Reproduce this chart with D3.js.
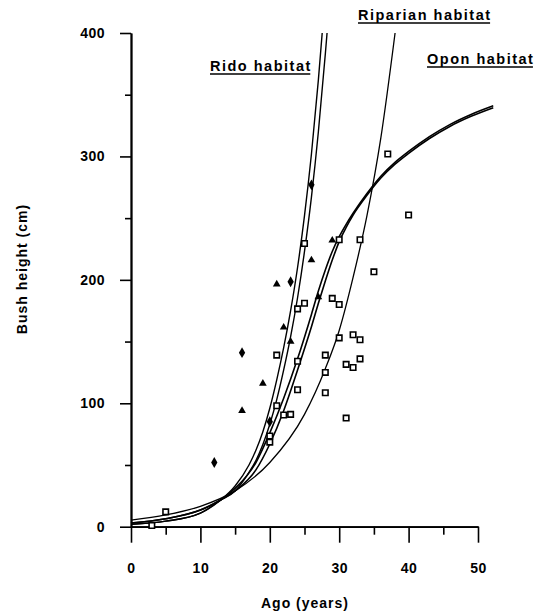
<!DOCTYPE html>
<html>
<head>
<meta charset="utf-8">
<script src="https://cdn.jsdelivr.net/npm/d3@7"></script>
<style>
  body { margin: 0; background: #fff; }
  svg { display: block; }
  text { font-family: "Liberation Sans", Arial, sans-serif; font-weight: bold; fill: #000; }
</style>
</head>
<body>
<div id="chart"></div>
<script>
// tick values
const ageTicks = [0, 10, 20, 30, 40, 50];
const ageMinorTicks = [5, 15, 25, 35, 45];
const heightTicks = [0, 100, 200, 300, 400];
const heightMinorTicks = [50, 150, 250, 350];

// fitted curves
const ridoAgeA = [0, 5, 10, 12.8, 15, 17, 18, 19, 20, 21, 22, 23, 24, 25, 26, 27, 27.55];
const ridoHeightA = [2, 4.5, 11, 21, 33, 50, 62, 77, 96, 119, 145, 175, 210, 252, 302, 362, 400];
const ridoAgeB = [0, 5, 10, 12.8, 15, 17, 18, 19, 20, 21, 22, 23, 24, 25, 26, 27, 28, 28.25];
const ridoHeightB = [2, 4.5, 11, 21, 29, 44, 53.6, 66.5, 83, 103, 127, 154, 185.5, 223, 267, 320, 383, 400];

const riparianAge = [0, 5, 10, 15, 20, 25, 28, 30, 32, 34, 36, 38.05];
const riparianHeight = [5.4, 9.5, 16.5, 29, 52, 91, 128, 159, 202, 252, 315, 400];

const oponAge = [0, 5, 10, 13, 15, 18, 20, 22, 24, 26, 27, 28, 29, 30, 31, 32, 34, 36, 38, 40, 43, 46, 49, 52.2];
const oponHeightA = [3, 6.5, 13.5, 22, 31, 52, 76, 104, 136, 172, 191, 208, 223, 235, 245, 254, 270, 284, 295, 304, 316, 326, 334, 341];
const oponHeightB = [3, 6.5, 13.5, 22, 29, 46, 67, 94, 127, 162, 181, 199, 216, 231, 242.5, 252.5, 268.5, 282.5, 293.5, 302.5, 314.5, 324.5, 332.5, 339.5];

// observations
const squareAge = [3, 5, 20, 20, 21, 21, 22, 23, 24, 24, 24, 25, 25, 28, 28, 28, 29, 30, 30, 30, 31, 31, 32, 32, 33, 33, 33, 35, 37, 40];
const squareHeight = [1, 12, 73.5, 68.5, 139, 98, 90.5, 91, 111, 134, 176.5, 181, 229.5, 139, 125, 108.5, 185, 180, 153, 232.5, 131.5, 88, 155.5, 129, 151.5, 136, 232.5, 206.5, 302, 252.5];
const triangleAge = [16, 19, 21, 22, 23, 26, 27, 29];
const triangleHeight = [94, 116, 196.5, 161.5, 150, 216, 186, 232];
const diamondAge = [12, 16, 20, 23, 26];
const diamondHeight = [52, 141, 85, 198.5, 277];

const width = 538, height = 613;

const svg = d3.select("#chart")
    .append("svg")
    .attr("width", width)
    .attr("height", height);

svg.append("rect").attr("width", width).attr("height", height).attr("fill", "#fff");

const x = d3.scaleLinear().domain([0, 50]).range([131, 478]);
const y = d3.scaleLinear().domain([0, 400]).range([526.7, 33]);

// axes
svg.append("g")
    .attr("transform", `translate(0,${y(0)})`)
    .call(d3.axisBottom(x).tickValues(ageTicks).tickSize(16).tickPadding(20).tickSizeOuter(0));
svg.append("g")
    .attr("transform", `translate(0,${y(0)})`)
    .call(d3.axisBottom(x).tickValues(ageMinorTicks).tickSize(8).tickFormat("").tickSizeOuter(0));

svg.append("g")
    .attr("transform", `translate(${x(0)},0)`)
    .call(d3.axisLeft(y).tickValues(heightTicks).tickSize(11).tickPadding(15).tickSizeOuter(0));
svg.append("g")
    .attr("transform", `translate(${x(0)},0)`)
    .call(d3.axisLeft(y).tickValues(heightMinorTicks).tickSize(6).tickFormat("").tickSizeOuter(0));

svg.selectAll(".domain").attr("stroke", "#000").attr("stroke-width", 1.8);
svg.selectAll(".tick line").attr("stroke", "#000").attr("stroke-width", 1.6);
svg.selectAll(".tick text")
    .style("font-size", "14px")
    .style("letter-spacing", "0.5px")
    .style("font-family", "'Liberation Sans', Arial, sans-serif")
    .style("font-weight", "bold");

// axis titles
svg.append("text")
    .attr("x", 305)
    .attr("y", 608)
    .attr("text-anchor", "middle")
    .style("font-size", "14px")
    .style("letter-spacing", "1px")
    .text("Ago (years)");

svg.append("text")
    .attr("transform", "translate(27,269) rotate(-90)")
    .attr("text-anchor", "middle")
    .style("font-size", "14px")
    .style("letter-spacing", "1px")
    .text("Bush height (cm)");

// curves
const line = d3.line()
    .x(d => x(d[0]))
    .y(d => y(d[1]))
    .curve(d3.curveMonotoneX);

const curves = [
    { age: ridoAgeA, h: ridoHeightA, w: 1.4 },
    { age: ridoAgeB, h: ridoHeightB, w: 1.4 },
    { age: riparianAge, h: riparianHeight, w: 1.3 },
    { age: oponAge, h: oponHeightA, w: 1.6 },
    { age: oponAge, h: oponHeightB, w: 1.6 }
];

svg.append("g")
    .selectAll("path")
    .data(curves)
    .join("path")
    .attr("d", c => line(c.age.map((a, i) => [a, c.h[i]])))
    .attr("fill", "none")
    .attr("stroke", "#000")
    .attr("stroke-width", c => c.w);

// markers
const pts = svg.append("g");

pts.selectAll("path.sq")
    .data(squareAge.map((a, i) => [a, squareHeight[i]]))
    .join("path")
    .attr("class", "sq")
    .attr("transform", d => `translate(${x(d[0])},${y(d[1])})`)
    .attr("d", d3.symbol(d3.symbolSquare, 30))
    .attr("fill", "#fff")
    .attr("stroke", "#000")
    .attr("stroke-width", 1.6);

pts.selectAll("path.tri")
    .data(triangleAge.map((a, i) => [a, triangleHeight[i]]))
    .join("path")
    .attr("class", "tri")
    .attr("transform", d => `translate(${x(d[0])},${y(d[1])})`)
    .attr("d", d3.symbol(d3.symbolTriangle, 26))
    .attr("fill", "#000");

pts.selectAll("path.dia")
    .data(diamondAge.map((a, i) => [a, diamondHeight[i]]))
    .join("path")
    .attr("class", "dia")
    .attr("transform", d => `translate(${x(d[0])},${y(d[1])})`)
    .attr("d", d3.symbol(d3.symbolDiamond, 34))
    .attr("fill", "#000");

// habitat labels, underlined
const labels = [
    { t: "Rido habitat", x: 210, y: 71 },
    { t: "Riparian habitat", x: 358, y: 20 },
    { t: "Opon habitat", x: 427, y: 64 }
];

labels.forEach(l => {
    const txt = svg.append("text")
        .attr("x", l.x)
        .attr("y", l.y)
        .style("font-size", "14.5px")
        .style("letter-spacing", "1.5px")
        .text(l.t);
    const len = txt.node().getComputedTextLength();
    svg.append("line")
        .attr("x1", l.x).attr("x2", l.x + len - 1.5)
        .attr("y1", l.y + 3).attr("y2", l.y + 3)
        .attr("stroke", "#000")
        .attr("stroke-width", 1.5);
});
</script>
</body>
</html>
